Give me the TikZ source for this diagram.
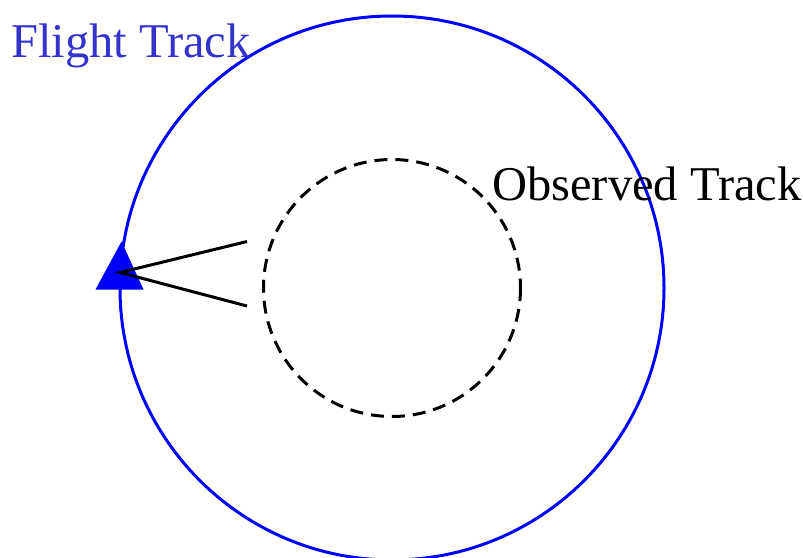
\documentclass[tikz,border=0pt]{standalone}
\usepackage{fontspec}
\setmainfont{Liberation Serif}
\begin{document}
\begin{tikzpicture}[x=1pt,y=-1pt,
  flight/.style={draw=blue,line width=3pt},
  observed/.style={draw=black,line width=3pt,dash pattern=on 13pt off 8pt},
  sight/.style={draw=black,line width=3pt},
  label/.style={font=\fontsize{48.5}{50}\selectfont,inner sep=0pt,anchor=base west}]
\useasboundingbox (0,0) rectangle (803,557);
\coordinate (c) at (392,288);
\draw[flight] (c) circle[radius=272];
\draw[observed] (c) circle[radius=128.5];
\coordinate (tip) at (120,272.5);
\coordinate (s1) at (247,241.5);
\coordinate (s2) at (247,306);
\fill[blue] (121.5,241.5) -- (95.5,289.5) -- (143.5,289.5) -- cycle;
\draw[sight,line join=miter] (s1) -- (tip) -- (s2);
\node[label,text={rgb,255:red,51;green,51;blue,204}] (ft) at (11,57) {Flight Track};
\node[label] (ot) at (492,200) {Observed Track};
\end{tikzpicture}
\end{document}
